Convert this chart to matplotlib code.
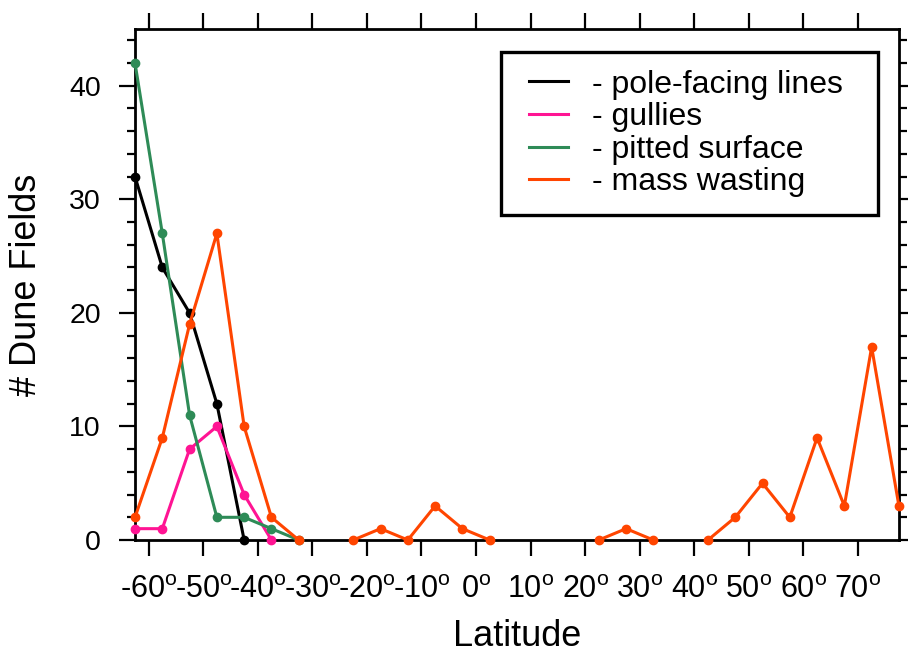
import numpy as np
import matplotlib.pyplot as plt
from matplotlib.lines import Line2D
from matplotlib.legend_handler import HandlerLine2D

plt.rcParams['font.family'] = ['Liberation Sans', 'DejaVu Sans']
plt.rcParams['mathtext.fontset'] = 'custom'
plt.rcParams['mathtext.rm'] = 'Liberation Sans'

nan = np.nan
# 5-degree latitude bin centres
lat = np.arange(-62.5, 80, 5.0)

pole_facing = [32, 24, 20, 12, 0] + [nan] * 24
gullies = [1, 1, 8, 10, 4, 0] + [nan] * 23
pitted = [42, 27, 11, 2, 2, 1, 0] + [nan] * 22
mass_wasting = [2, 9, 19, 27, 10, 2, 0, nan, 0, 1, 0, 3, 1, 0, nan, nan, nan,
                0, 1, 0, nan, 0, 2, 5, 2, 9, 3, 17, 3]

series_names = ['- pole-facing lines', '- gullies', '- pitted surface', '- mass wasting']
series_colors = ['black', '#ff1493', '#2e8b57', '#ff4500']

xticks = np.arange(-60, 80, 10)
xticklabels = ['%d$^\\mathrm{o}$' % v for v in xticks]

fig = plt.figure(figsize=(9.08, 6.56), dpi=100)
ax = fig.add_axes([0.1487, 0.1768, 0.8413, 0.779])

for vals, c in zip([pole_facing, gullies, pitted, mass_wasting], series_colors):
    ax.plot(lat, np.array(vals, dtype=float), color=c, lw=2.2,
            marker='o', ms=6, mec=c, mfc=c, clip_on=False, zorder=3)

ax.set_xlim(-62.5, 77.5)
ax.set_ylim(0, 45)
ax.set_xticks(xticks)
ax.set_xticklabels(xticklabels)
ax.set_yticks([0, 10, 20, 30, 40])
ax.set_yticks(np.arange(0, 46, 2), minor=True)

for s in ax.spines.values():
    s.set_linewidth(2)
ax.tick_params(which='both', direction='out', top=True, right=True, width=1.6)
ax.tick_params(which='major', length=11.5)
ax.tick_params(which='minor', length=5.8)
ax.tick_params(axis='x', which='minor', top=False, bottom=False)
ax.tick_params(axis='x', labelsize=22, pad=14)
ax.tick_params(axis='y', labelsize=20.5, pad=13)

ax.set_xlabel('Latitude', fontsize=26, labelpad=10)
ax.set_ylabel('# Dune Fields', fontsize=26, labelpad=18)

# legend box stretched to a fixed width, text left-aligned inside;
# xpad pushes the sample lines a little in from the left border
handles = [Line2D([], [], color=c, lw=2.2) for c in series_colors]
leg = ax.legend(handles, series_names, loc='upper left', mode='expand',
                bbox_to_anchor=(0.5518, 0.5, 0.4152, 0.4207),
                bbox_transform=fig.transFigure,
                handler_map={Line2D: HandlerLine2D(xpad=0.31)},
                fontsize=23, handlelength=1.56, handletextpad=0.75,
                labelspacing=0.08, borderpad=0.55, borderaxespad=0,
                fancybox=False, framealpha=1, edgecolor='black')
leg.get_frame().set_linewidth(2.4)

fig.savefig('out.png', dpi=100)
